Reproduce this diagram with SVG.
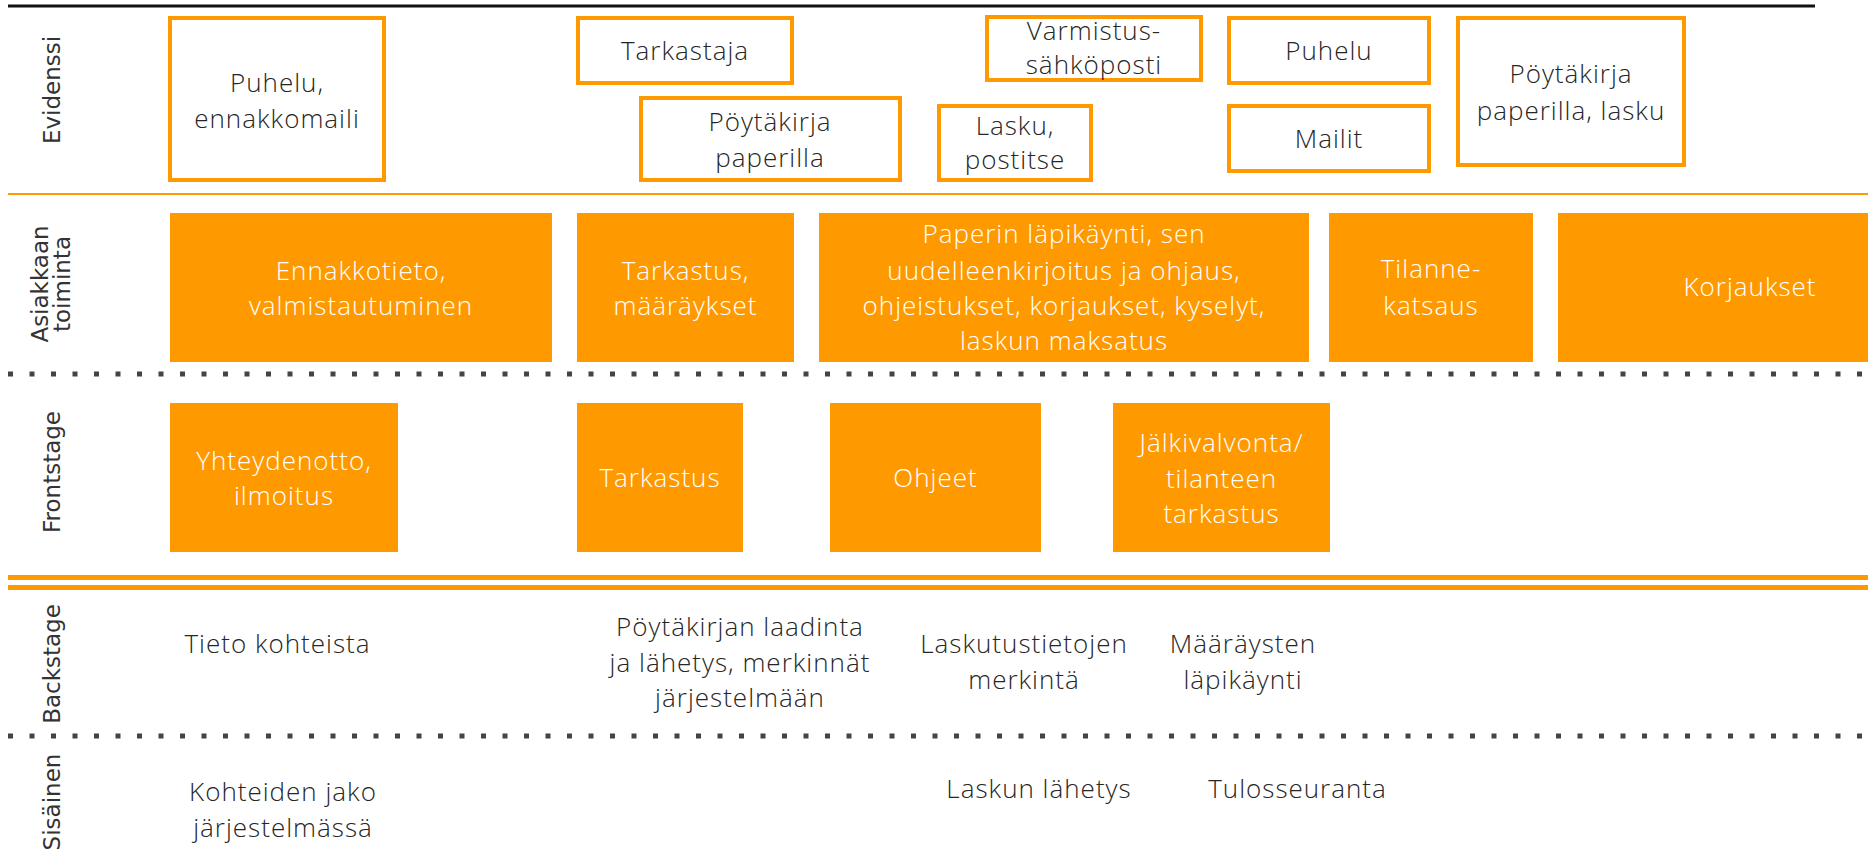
<svg xmlns="http://www.w3.org/2000/svg" width="1868" height="854" viewBox="0 0 1868 854">
<style>
.ev{fill:#fff;stroke:#FF9900;stroke-width:4}
.act{fill:#FF9900}
.bt{font-family:"Open Sans","Liberation Sans",sans-serif;font-size:26px;font-weight:300;letter-spacing:1px;fill:#262626;text-anchor:middle}
.wt{font-family:"Open Sans","Liberation Sans",sans-serif;font-size:26px;font-weight:300;letter-spacing:1px;fill:#ffffff;text-anchor:middle}
.lane{font-family:"DejaVu Sans","Liberation Sans",sans-serif;font-size:23px;fill:#333;text-anchor:middle}
.dots{stroke:#444;stroke-width:5;stroke-dasharray:5 16.5;fill:none}
</style>
<rect width="1868" height="854" fill="#fff"/>
<g id="lines">
<line x1="8" y1="6" x2="1815" y2="6" stroke="#111" stroke-width="3"/>
<line x1="8" y1="194" x2="1868" y2="194" stroke="#FF9900" stroke-width="2"/>
<line class="dots" x1="8" y1="374" x2="1868" y2="374"/>
<line x1="8" y1="577.5" x2="1868" y2="577.5" stroke="#FF9900" stroke-width="5"/>
<line x1="8" y1="587.5" x2="1868" y2="587.5" stroke="#FF9900" stroke-width="5"/>
<line class="dots" x1="8" y1="736" x2="1868" y2="736"/>
</g>
<g id="lanes">
<text class="lane" transform="translate(60,90) rotate(-90)">Evidenssi</text>
<text class="lane" transform="translate(48,284) rotate(-90)">Asiakkaan</text>
<text class="lane" transform="translate(70,284) rotate(-90)">toiminta</text>
<text class="lane" transform="translate(60,472) rotate(-90)">Frontstage</text>
<text class="lane" transform="translate(60,664) rotate(-90)">Backstage</text>
<text class="lane" transform="translate(60,802) rotate(-90)">Sisäinen</text>
</g>
<g id="ev1"><rect class="ev" x="170" y="18" width="214" height="162"/><text class="bt" x="277" y="92">Puhelu,</text><text class="bt" x="277" y="128">ennakkomaili</text></g>
<g id="ev2"><rect class="ev" x="578" y="18" width="214" height="65"/><text class="bt" x="685" y="60">Tarkastaja</text></g>
<g id="ev3"><rect class="ev" x="641" y="98" width="259" height="82"/><text class="bt" x="770" y="131">Pöytäkirja</text><text class="bt" x="770" y="167">paperilla</text></g>
<g id="ev4"><rect class="ev" x="987" y="17" width="214" height="63"/><text class="bt" x="1094" y="40">Varmistus-</text><text class="bt" x="1094" y="74">sähköposti</text></g>
<g id="ev5"><rect class="ev" x="939" y="106" width="152" height="74"/><text class="bt" x="1015" y="135">Lasku,</text><text class="bt" x="1015" y="169">postitse</text></g>
<g id="ev6"><rect class="ev" x="1229" y="18" width="200" height="65"/><text class="bt" x="1329" y="60">Puhelu</text></g>
<g id="ev7"><rect class="ev" x="1229" y="106" width="200" height="65"/><text class="bt" x="1329" y="148">Mailit</text></g>
<g id="ev8"><rect class="ev" x="1458" y="18" width="226" height="147"/><text class="bt" x="1571" y="83">Pöytäkirja</text><text class="bt" x="1571" y="120">paperilla, lasku</text></g>
<g id="a1"><rect class="act" x="170" y="213" width="382" height="149"/><text class="wt" x="361" y="280">Ennakkotieto,</text><text class="wt" x="361" y="315">valmistautuminen</text></g>
<g id="a2"><rect class="act" x="577" y="213" width="217" height="149"/><text class="wt" x="685.5" y="280">Tarkastus,</text><text class="wt" x="685.5" y="315">määräykset</text></g>
<g id="a3"><rect class="act" x="819" y="213" width="490" height="149"/><text class="wt" x="1064" y="243">Paperin läpikäynti, sen</text><text class="wt" x="1064" y="280">uudelleenkirjoitus ja ohjaus,</text><text class="wt" x="1064" y="315">ohjeistukset, korjaukset, kyselyt,</text><text class="wt" x="1064" y="350">laskun maksatus</text></g>
<g id="a4"><rect class="act" x="1329" y="213" width="204" height="149"/><text class="wt" x="1431" y="278">Tilanne-</text><text class="wt" x="1431" y="315">katsaus</text></g>
<g id="a5"><rect class="act" x="1558" y="213" width="310" height="149"/><text class="wt" x="1750" y="296">Korjaukset</text></g>
<g id="f1"><rect class="act" x="170" y="403" width="228" height="149"/><text class="wt" x="284" y="470">Yhteydenotto,</text><text class="wt" x="284" y="505">ilmoitus</text></g>
<g id="f2"><rect class="act" x="577" y="403" width="166" height="149"/><text class="wt" x="660" y="487">Tarkastus</text></g>
<g id="f3"><rect class="act" x="830" y="403" width="211" height="149"/><text class="wt" x="935.5" y="487">Ohjeet</text></g>
<g id="f4"><rect class="act" x="1113" y="403" width="217" height="149"/><text class="wt" x="1221.5" y="452">Jälkivalvonta/</text><text class="wt" x="1221.5" y="488">tilanteen</text><text class="wt" x="1221.5" y="523">tarkastus</text></g>
<g id="b1"><text class="bt" x="277.5" y="653">Tieto kohteista</text></g>
<g id="b2"><text class="bt" x="740" y="636">Pöytäkirjan laadinta</text><text class="bt" x="740" y="672">ja lähetys, merkinnät</text><text class="bt" x="740" y="707">järjestelmään</text></g>
<g id="b3"><text class="bt" x="1024" y="653">Laskutustietojen</text><text class="bt" x="1024" y="689">merkintä</text></g>
<g id="b4"><text class="bt" x="1243" y="653">Määräysten</text><text class="bt" x="1243" y="689">läpikäynti</text></g>
<g id="s1"><text class="bt" x="283" y="801">Kohteiden jako</text><text class="bt" x="283" y="837">järjestelmässä</text></g>
<g id="s2"><text class="bt" x="1039" y="798">Laskun lähetys</text></g>
<g id="s3"><text class="bt" x="1297.5" y="798">Tulosseuranta</text></g>
</svg>
